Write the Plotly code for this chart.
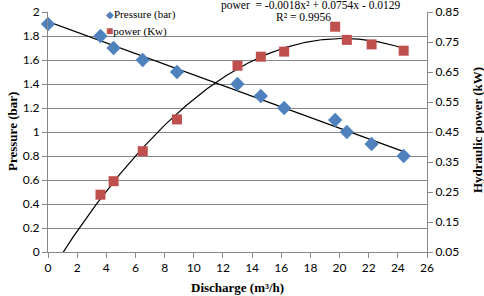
import numpy as np
import plotly.graph_objects as go

# Data
discharge_p = [0, 3.6, 4.5, 6.5, 8.85, 13.0, 14.6, 16.2, 19.7, 20.5, 22.2, 24.4]
pressure = [1.90, 1.80, 1.70, 1.60, 1.50, 1.40, 1.30, 1.20, 1.10, 1.00, 0.90, 0.80]

discharge_w = [3.6, 4.5, 6.5, 8.85, 13.0, 14.6, 16.2, 19.7, 20.5, 22.2, 24.4]
power = [0.241, 0.286, 0.386, 0.492, 0.671, 0.701, 0.718, 0.801, 0.757, 0.742, 0.721]

x_ticks = list(range(0, 27, 2))
y2_ticks = [0.05, 0.15, 0.25, 0.35, 0.45, 0.55, 0.65, 0.75, 0.85]
eq_text = "power  = -0.0018x\u00b2 + 0.0754x - 0.0129"
r2_text = "R\u00b2 = 0.9956"

# Trendlines (least squares fits of the data, like the spreadsheet trendlines)
pc = np.polyfit(discharge_p, pressure, 1)
xp = np.linspace(min(discharge_p), max(discharge_p), 50)
wc = np.polyfit(discharge_w, power, 2)
xw = np.linspace(0.0, max(discharge_w), 200)

BLUE = "#4F81BD"
RED = "#C0504D"
GRID = "#888888"
serif = "Liberation Serif"
sans = "Lato"

fig = go.Figure()
fig.add_trace(go.Scatter(x=xp, y=np.polyval(pc, xp), mode="lines",
                         line=dict(color="black", width=1.2), showlegend=False, hoverinfo="skip"))
fig.add_trace(go.Scatter(x=xw, y=np.polyval(wc, xw), mode="lines", yaxis="y2",
                         line=dict(color="black", width=1.2), showlegend=False, hoverinfo="skip"))
fig.add_trace(go.Scatter(x=discharge_p, y=pressure, mode="markers", name="Pressure (bar)",
                         marker=dict(symbol="diamond", size=11, color=BLUE), cliponaxis=False,
                         showlegend=False))
fig.add_trace(go.Scatter(x=discharge_w, y=power, mode="markers", name="power (Kw)", yaxis="y2",
                         marker=dict(symbol="square", size=10, color=RED), cliponaxis=False,
                         showlegend=False))

fig.update_layout(
    width=484, height=296,
    margin=dict(l=48, r=57, t=12, b=44, autoexpand=False),
    paper_bgcolor="white", plot_bgcolor="white",
    font=dict(family=sans, size=12, color="black"),
    hovermode=False,
    xaxis=dict(range=[0, 26], tickvals=x_ticks, showgrid=False, showline=True, automargin=False,
               linecolor=GRID, linewidth=1, ticks="outside", ticklen=5, tickcolor=GRID,
               zeroline=False, tickfont=dict(family=sans, size=12)),
    yaxis=dict(range=[0, 2], dtick=0.2, showgrid=True, gridcolor=GRID, gridwidth=1, automargin=False,
               showline=True, linecolor=GRID, ticks="outside", ticklen=5, tickcolor=GRID,
               zeroline=False, tickfont=dict(family=sans, size=12)),
    yaxis2=dict(range=[0.05, 0.85], tickvals=y2_ticks, automargin=False,
                overlaying="y", side="right", showgrid=False, showline=True, linecolor=GRID,
                ticks="outside", ticklen=5, tickcolor=GRID, zeroline=False,
                tickfont=dict(family=sans, size=12)),
    showlegend=False,
)

def ann(text, px, py, size, bold=False, angle=0, xanchor="center"):
    fig.add_annotation(text=text, xref="paper", yref="paper",
                       x=(px - 48) / 379, y=(252 - py) / 240,
                       xanchor=xanchor, yanchor="middle", showarrow=False, textangle=angle,
                       font=dict(family=serif, size=size, color="black",
                                 weight="bold" if bold else "normal"))

# Trendline label
ann(eq_text, 311, 5, 11.5)
ann(r2_text, 303, 17, 11.5)

# Legend (series symbols with their names)
ann(f'<span style="color:{BLUE};font-size:10px">\u25c6</span>Pressure (bar)', 104, 15, 11, xanchor="left")
ann(f'<span style="color:{RED};font-size:12px">\u25a0</span>power (Kw)', 104, 31, 11, xanchor="left")

# Axis titles
ann("Pressure (bar)", 12, 132, 13, bold=True, angle=-90)
ann("Discharge (m\u00b3/h)", 237, 287, 13, bold=True)
ann("Hydraulic power (kW)", 477, 130, 13, bold=True, angle=-90)

fig.write_html("out.html", config={"displayModeBar": False, "staticPlot": True},
               post_script="document.body.style.margin='0';")
